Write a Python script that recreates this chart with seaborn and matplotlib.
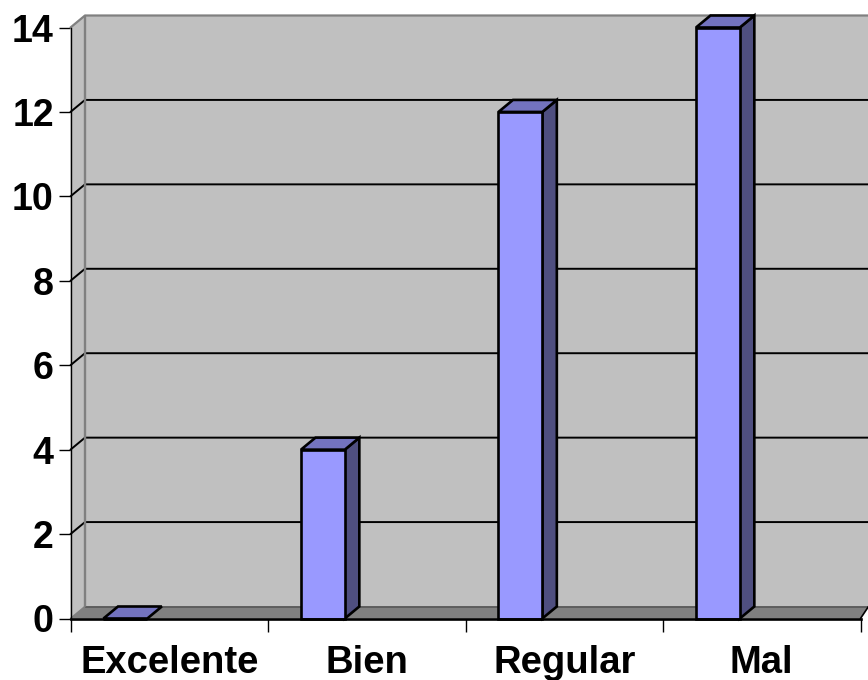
#!/usr/bin/env python3
"""Excel style 3D column chart redrawn with seaborn bars and fake depth faces."""

import matplotlib.pyplot as plt
import pandas as pd
import seaborn as sns
from matplotlib.patches import Polygon

CATEGORIES = ["Excelente", "Bien", "Regular", "Mal"]
VALUES = [0, 4, 12, 14]
Y_TICKS = [0, 2, 4, 6, 8, 10, 12, 14]

W, H = 868, 680
LEFT, RIGHT = 70.5, 860.5
BOTTOM, TOP = 618.5, 27.5

FRONT = "#9999FF"
SIDE = "#4F4F80"
CAP = "#7373BF"
WALL = "#C0C0C0"
FLOOR = "#808080"

sns.set_theme(style="white")
plt.rcParams["font.family"] = ["Liberation Sans", "DejaVu Sans"]

fig = plt.figure(figsize=(W / 100, H / 100), dpi=100)
ax = fig.add_axes([LEFT / W, 1 - BOTTOM / H, (RIGHT - LEFT) / W, (BOTTOM - TOP) / H])

df = pd.DataFrame({"rating": CATEGORIES, "count": VALUES})
sns.barplot(
    data=df, x="rating", y="count", order=CATEGORIES, color=FRONT, saturation=1,
    width=0.222, edgecolor="black", linewidth=1.9, ax=ax, zorder=5,
)
ax.set_xlim(-0.5, 3.5)
ax.set_ylim(0, 14)

# depth of the fake 3D box, in data units
DX = 14.5 / ((RIGHT - LEFT) / 4)
DY = 12 / ((BOTTOM - TOP) / 14)
SHIFT = -0.222


def face(points, color, edge="black", lw=1.9, z=5):
    ax.add_patch(Polygon(points, closed=True, facecolor=color, edgecolor=edge,
                         linewidth=lw, clip_on=False, zorder=z, joinstyle="miter"))


# walls and floor
x0, x1 = -0.5, 3.5
x_edge = x1 + 8 / ((RIGHT - LEFT) / 4)
right_px = x0 + (W - LEFT) / ((RIGHT - LEFT) / 4)
face([(x0 + DX, DY), (right_px, DY), (right_px, 14 + DY), (x0 + DX, 14 + DY)], WALL, "none", 0, 1)
face([(x0, 0), (x0 + DX, DY), (x0 + DX, 14 + DY), (x0, 14)], WALL, "none", 0, 1)
face([(x0, 0), (x1, 0), (x_edge, DY), (x0 + DX, DY)], FLOOR, "none", 0, 1)
for tick in Y_TICKS[1:-1]:
    ax.plot([x0, x0 + DX, right_px], [tick, tick + DY, tick + DY], color="black", lw=1.4,
            clip_on=False, zorder=2)
ax.plot([x0 + DX, x0 + DX], [DY, 14 + DY], color=FLOOR, lw=1.7, clip_on=False, zorder=3)
ax.plot([x0, x0 + DX, right_px], [14, 14 + DY, 14 + DY], color=FLOOR, lw=1.6, clip_on=False, zorder=3)
ax.plot([x0 + DX, right_px], [DY, DY], color="#5A5A5A", lw=1.3, clip_on=False, zorder=3)
ax.plot([x0, x0 + DX], [0, DY], color=FLOOR, lw=1.2, clip_on=False, zorder=3)
ax.plot([x1, x_edge], [0, DY], color="black", lw=1.2, clip_on=False, zorder=3)

# shift the bars off the category centre and add the side and top faces
for patch in ax.patches[:len(VALUES)]:
    patch.set_x(patch.get_x() + SHIFT)
    left = patch.get_x()
    right = left + patch.get_width()
    top = patch.get_height()
    if top > 0:
        face([(right, 0), (right + DX, DY), (right + DX, top + DY), (right, top)], SIDE, z=4)
    face([(left, top), (left + DX, top + DY), (right + DX, top + DY), (right, top)], CAP, z=4)
    patch.set_clip_on(False)

for side in ("top", "right"):
    ax.spines[side].set_visible(False)
for side in ("left", "bottom"):
    ax.spines[side].set_visible(True)
    ax.spines[side].set_color("black")
    ax.spines[side].set_zorder(6)
ax.spines["left"].set_linewidth(1.0)
ax.spines["bottom"].set_linewidth(1.9)

ax.set_xlabel("")
ax.set_ylabel("")
ax.set_yticks(Y_TICKS)
ax.set_xticks([0, 1, 2, 3])
ax.set_xticklabels(CATEGORIES)
ax.set_xticks([-0.5, 0.5, 1.5, 2.5, 3.5], minor=True)
ax.tick_params(axis="x", which="major", length=0, pad=19, labelsize=27.5, labelcolor="black")
ax.tick_params(axis="x", which="minor", bottom=True, length=9, width=1.0, color="black")
ax.tick_params(axis="y", left=True, length=9, width=1.0, color="black", pad=3,
               labelsize=27, labelcolor="black")
for label in ax.get_xticklabels() + ax.get_yticklabels():
    label.set_fontweight("bold")

fig.savefig("out.png", dpi=100, facecolor="white")
